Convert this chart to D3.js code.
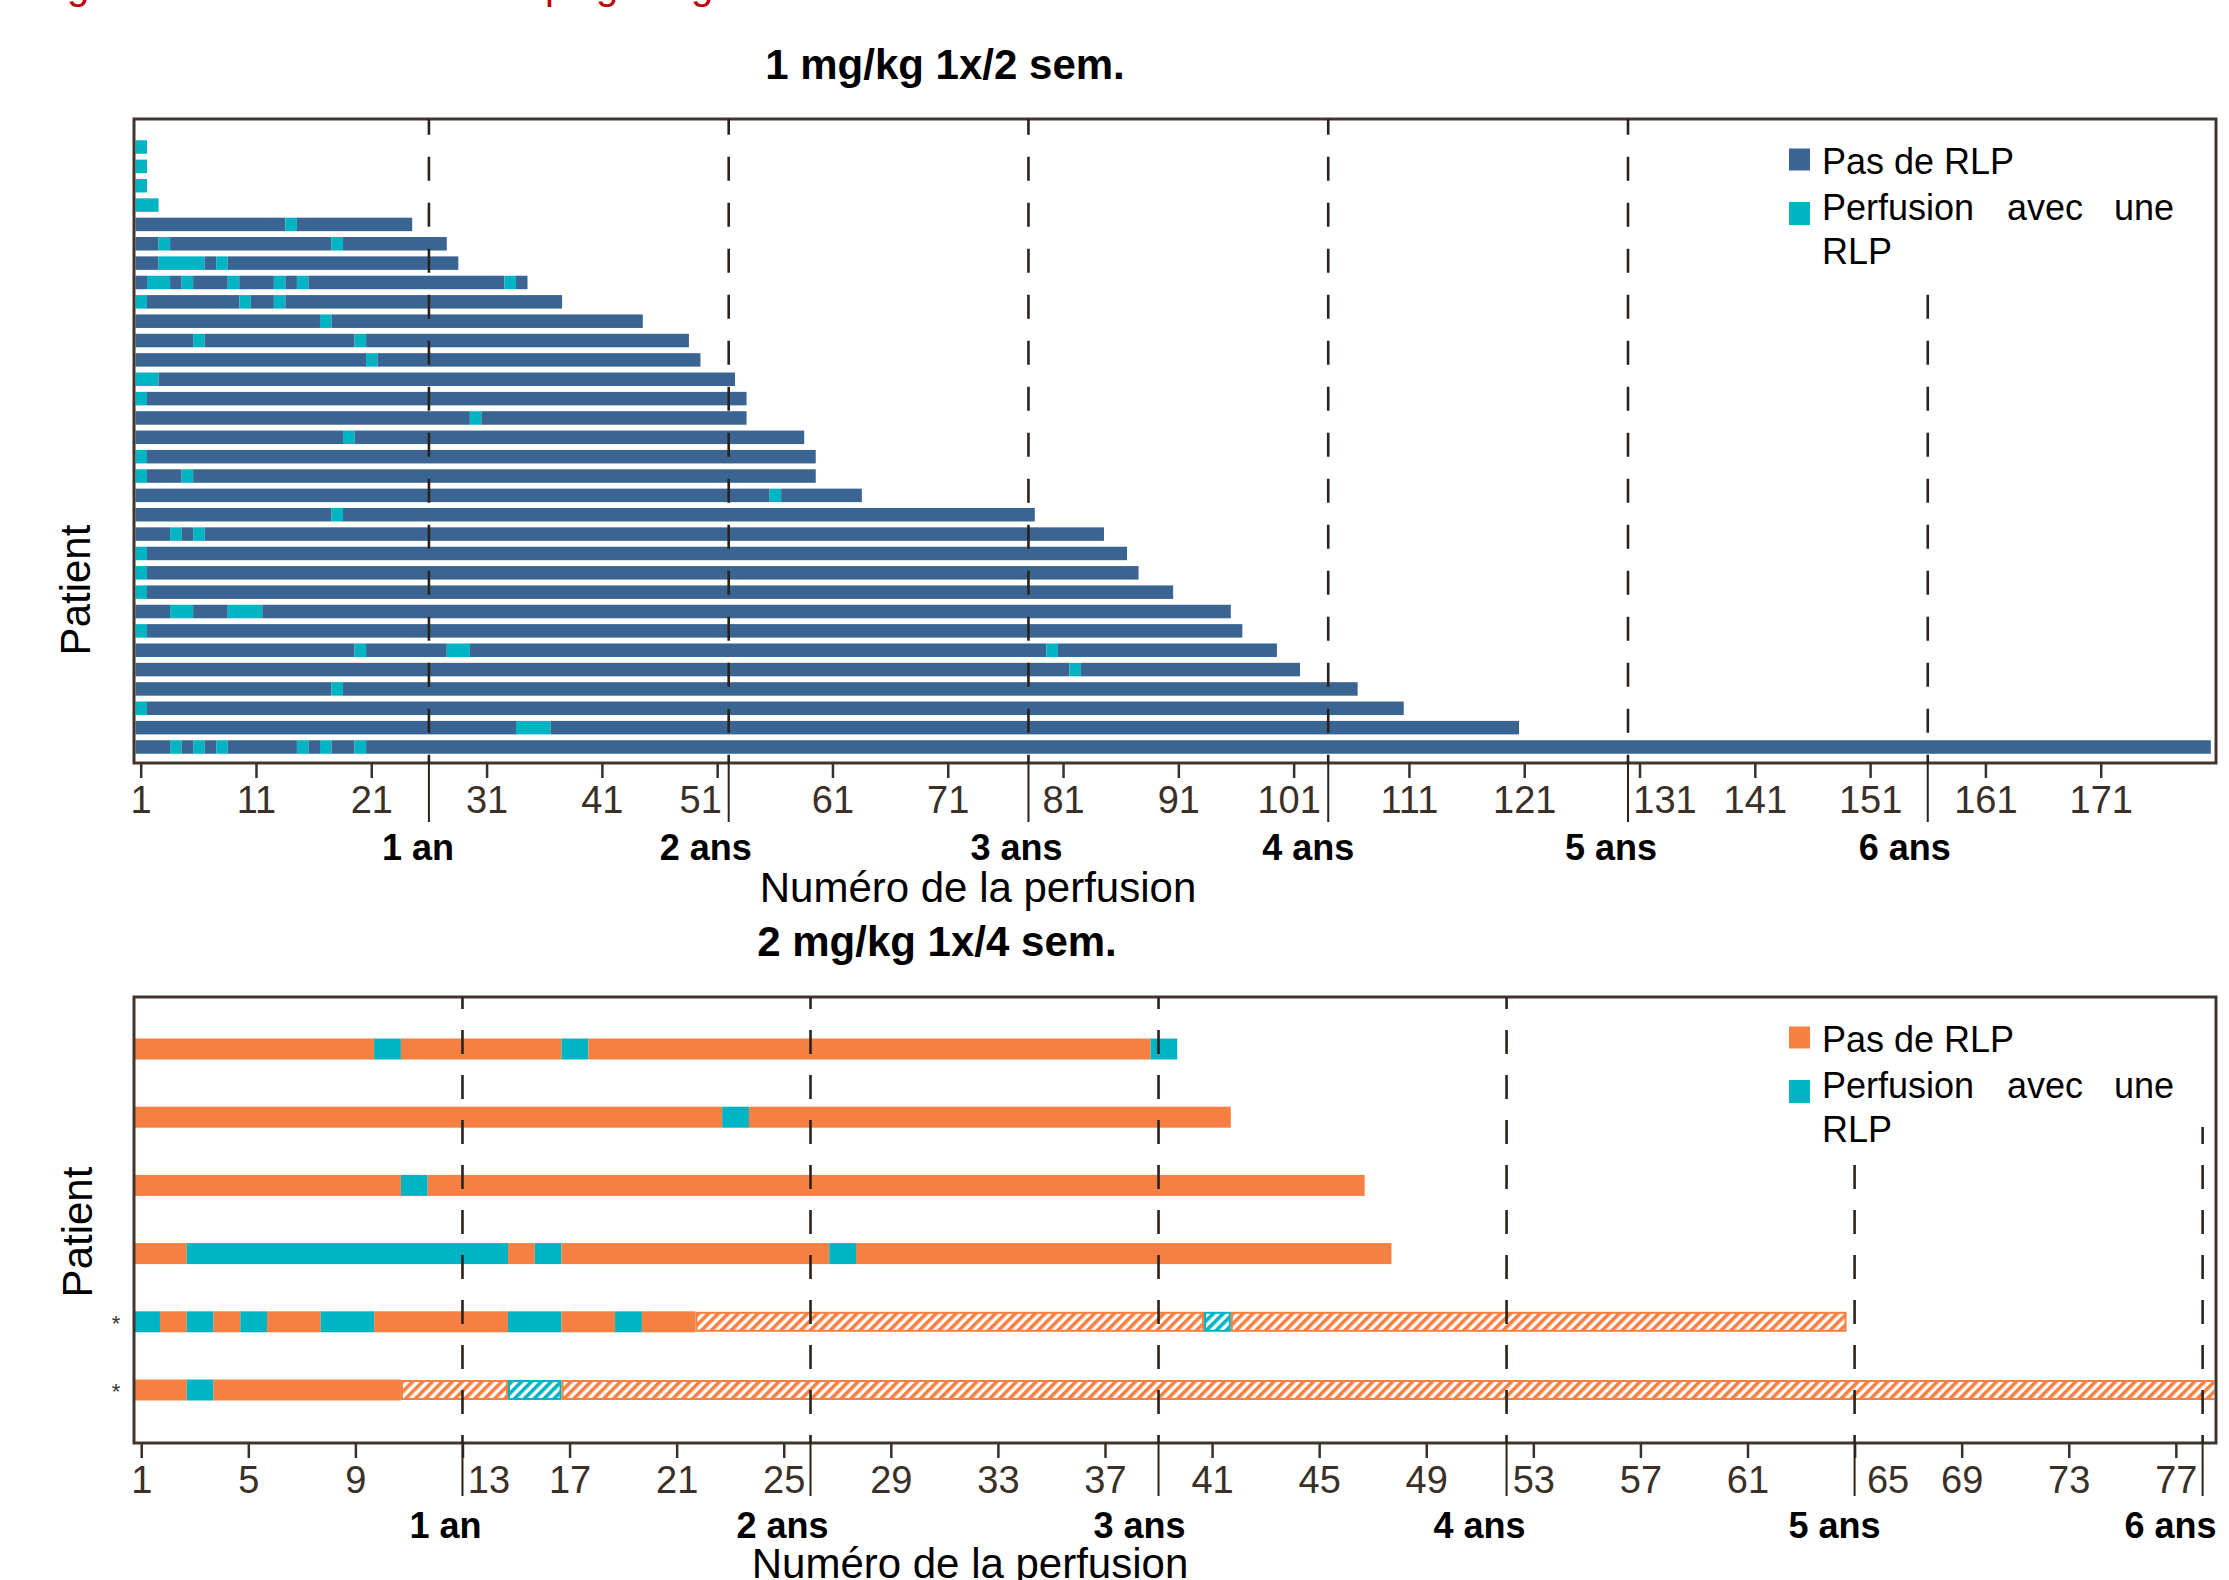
<!DOCTYPE html>
<html><head><meta charset="utf-8">
<script src="https://cdn.jsdelivr.net/npm/d3@7"></script>
<style>
body{margin:0;background:#fff;}
svg{display:block;font-family:"Liberation Sans", Arial, sans-serif;}
</style></head><body>
<svg id="chart" width="2229" height="1580"></svg>
<script>
// ---------------- DATA ----------------
const titles = ["1 mg/kg 1x/2 sem.", "2 mg/kg 1x/4 sem."];
const xTitle = "Numéro de la perfusion";
const yTitle = "Patient";
const legendNo = "Pas de RLP";
const legendYesWords = ["Perfusion", "avec", "une"];
const legendYesLine2 = "RLP";
const yearLabels = ["1 an", "2 ans", "3 ans", "4 ans", "5 ans", "6 ans"];

// panel 1 : 1 mg/kg every 2 weeks (top to bottom)
const topInfusions = [1,1,1,2,24,27,28,34,37,44,48,49,52,53,53,58,59,59,63,78,84,86,87,90,95,96,99,101,106,110,120,180];
const topRLP = [[1],[1],[1],[1,2],[14],[3,18],[3,4,5,6,8],[2,3,5,9,13,15,33],[1,10,13],[17],[6,20],[21],[1,2],[1],[30],[19],[1],[1,5],[56],[18],[4,6],[1],[1],[1],[4,5,9,10,11],[1],[20,28,29,80],[82],[18],[1],[34,35,36],[4,6,8,15,17,20]];
const topTicks = d3.range(1, 172, 10);
const topYearInfusion = [26, 52, 78, 104, 130, 156];

// panel 2 : 2 mg/kg every 4 weeks (top to bottom)
const botInfusions = [39, 41, 46, 47, 64, 78];
const botRLP = [[10,17,39],[23],[11],[3,4,5,6,7,8,9,10,11,12,13,14,16,27],[1,3,5,8,9,15,16,19,41],[3,15,16]];
const botHatchFrom = [null, null, null, null, 22, 11];
const botStar = [false, false, false, false, true, true];
const botTicks = d3.range(1, 78, 4);
const botYearInfusion = [13, 26, 39, 52, 65, 78];

// ---------------- LAYOUT / STYLE ----------------
const C = {
  blue: "#3a6491", cyan: "#00b4c4", orange: "#f68042",
  frame: "#40362c", dash: "#2a231d", text: "#000", tick: "#3a3027"
};
const L = {
  left: 134, right: 2216,
  legendX: 1822, legendWordX: [1822, 2007, 2114],
  top: { y0: 119, y1: 763, rowFirst: 147, rowLast: 747, barH: 13.5, dom: [0.42, 181], a: 0.45, b: 0.55,
         dashStart: [119,119,119,119,119,291], phase: 110.7, dash: "24 22", period: 46,
         yearDx: [-11,-23,-12,-20,-17,-23], labelShift: {51:-17, 101:-5, 131:25}, yearY: 97,
         title: {x: 945, y: 79}, xTitle: {x: 978, y: 902}, yTitle: {x: 90, y: 590}, ext: 59 },
  bot: { y0: 997, y1: 1443, rowFirst: 1049, rowLast: 1390, barH: 21, dom: [0.73, 78.5], a: 0.3, b: 0.7,
         dashStart: [997,997,997,997,1161,1127], phase: 1075, dash: "24 21", period: 45,
         yearDx: [-17,-28,-19,-27,-20,-32], labelShift: {13:26, 65:33}, yearY: 95,
         title: {x: 937, y: 956}, xTitle: {x: 970, y: 1578}, yTitle: {x: 92, y: 1232}, ext: 53 }
};

const svg = d3.select("#chart");
const defs = svg.append("defs");
function hatch(id, color) {
  const p = defs.append("pattern").attr("id", id).attr("patternUnits", "userSpaceOnUse")
    .attr("width", 7).attr("height", 7).attr("patternTransform", "rotate(45)");
  p.append("rect").attr("width", 7).attr("height", 7).attr("fill", "#fff");
  p.append("rect").attr("x", 0).attr("y", 0).attr("width", 3.6).attr("height", 7).attr("fill", color);
}
hatch("hatchO", C.orange);
hatch("hatchC", C.cyan);

// red cropped caption above the chart (only descenders visible)
svg.append("text").attr("y", -1).attr("fill", "#c00000").style("font-size", "40px")
  .selectAll("tspan").data([["g",67],["p",545],["g",596],["g",691]]).join("tspan")
  .attr("x", d => d[1]).text(d => d[0]);

function runs(n, rlp, hatchFrom) {
  const s = new Set(rlp), out = [];
  for (let k = 1; k <= n; k++) {
    const h = hatchFrom != null && k >= hatchFrom;
    const t = (s.has(k) ? "r" : "n") + (h ? "h" : "");
    const last = out[out.length - 1];
    if (last && last.t === t) last.end = k; else out.push({start: k, end: k, t});
  }
  return out;
}

let clipN = 0;
function panel(cfg, infusions, rlp, hatchFrom, stars, ticks, yearInf, baseColor, title, legendColor) {
  const x = d3.scaleLinear().domain(cfg.dom).range([L.left, L.right]);
  const ids = d3.range(infusions.length);
  const y = d3.scalePoint().domain(ids).range([cfg.rowFirst, cfg.rowLast]);
  const g = svg.append("g");
  const cid = "clip" + (clipN++);
  defs.append("clipPath").attr("id", cid).append("rect")
    .attr("x", L.left).attr("y", cfg.y0).attr("width", L.right - L.left - 1.5).attr("height", cfg.y1 - cfg.y0);
  const bars = g.append("g").attr("clip-path", `url(#${cid})`);

  // bars
  ids.forEach(i => {
    const segs = runs(infusions[i], rlp[i], hatchFrom ? hatchFrom[i] : null);
    segs.forEach(s => {
      const x0 = x(s.start - cfg.a), x1 = x(s.end + cfg.b);
      const isR = s.t[0] === "r", isH = s.t.length > 1;
      const col = isR ? C.cyan : baseColor;
      if (isH) {
        const h = cfg.barH - 3;
        bars.append("rect").attr("x", x0 + 1).attr("y", y(i) - h / 2).attr("width", x1 - x0 - 2).attr("height", h)
          .attr("fill", isR ? "url(#hatchC)" : "url(#hatchO)").attr("stroke", col).attr("stroke-width", 2);
      } else {
        bars.append("rect").attr("x", x0).attr("y", y(i) - cfg.barH / 2).attr("width", x1 - x0).attr("height", cfg.barH)
          .attr("fill", col);
      }
    });
  });

  // stars
  if (stars) {
    g.selectAll("text.star").data(ids.filter(i => stars[i])).join("text").attr("class", "star")
      .attr("x", 116).attr("y", i => y(i) + 9).attr("text-anchor", "middle")
      .style("font-size", "22px").attr("fill", "#333").text("*");
  }

  // frame
  g.append("rect").attr("x", L.left).attr("y", cfg.y0).attr("width", L.right - L.left).attr("height", cfg.y1 - cfg.y0)
    .attr("fill", "none").attr("stroke", C.frame).attr("stroke-width", 3);

  // axis
  const ax = g.append("g").attr("transform", `translate(0,${cfg.y1})`)
    .call(d3.axisBottom(x).tickValues(ticks).tickFormat(d3.format("d")).tickSize(15).tickSizeOuter(0).tickPadding(8));
  ax.select(".domain").remove();
  ax.selectAll(".tick line").attr("stroke", C.tick).attr("stroke-width", 2.5);
  ax.selectAll(".tick text").attr("fill", C.tick).style("font-size", "38px")
    .attr("dx", d => cfg.labelShift[d] || 0);

  // year lines (dashed inside, solid below)
  yearInf.forEach((v, j) => {
    const xv = x(v), ys = cfg.dashStart[j];
    const off = ((ys - cfg.phase) % cfg.period + cfg.period) % cfg.period;
    g.append("line").attr("x1", xv).attr("x2", xv).attr("y1", ys).attr("y2", cfg.y1)
      .attr("stroke", C.dash).attr("stroke-width", 2.6).attr("stroke-dasharray", cfg.dash).attr("stroke-dashoffset", off);
    g.append("line").attr("x1", xv).attr("x2", xv).attr("y1", cfg.y1).attr("y2", cfg.y1 + cfg.ext)
      .attr("stroke", C.dash).attr("stroke-width", 2);
    g.append("text").attr("x", xv + cfg.yearDx[j]).attr("y", cfg.y1 + cfg.yearY).attr("text-anchor", "middle")
      .style("font-size", "36px").style("font-weight", "bold").attr("fill", C.text).text(yearLabels[j]);
  });

  // titles
  g.append("text").attr("x", cfg.title.x).attr("y", cfg.title.y).attr("text-anchor", "middle")
    .style("font-size", "42px").style("font-weight", "bold").text(title);
  g.append("text").attr("x", cfg.xTitle.x).attr("y", cfg.xTitle.y).attr("text-anchor", "middle")
    .style("font-size", "42px").text(xTitle);
  g.append("text").attr("transform", `translate(${cfg.yTitle.x},${cfg.yTitle.y}) rotate(-90)`).attr("text-anchor", "middle")
    .style("font-size", "42px").text(yTitle);

  // legend
  const lg = g.append("g").attr("transform", `translate(0,${cfg.y0})`);
  lg.append("rect").attr("x", 1789).attr("y", 40.5 - 11).attr("width", 21).attr("height", 22).attr("fill", legendColor);
  lg.append("rect").attr("x", 1789).attr("y", 94.5 - 11.5).attr("width", 21).attr("height", 23).attr("fill", C.cyan);
  lg.append("text").attr("x", L.legendX).attr("y", 55).style("font-size", "36px").text(legendNo);
  lg.append("text").attr("y", 100.5).style("font-size", "36px")
    .selectAll("tspan").data(legendYesWords).join("tspan")
    .attr("x", (d, i) => L.legendWordX[i]).text(d => d);
  lg.append("text").attr("x", L.legendX).attr("y", 144.5).style("font-size", "36px").text(legendYesLine2);
}

panel(L.top, topInfusions, topRLP, null, null, topTicks, topYearInfusion, C.blue, titles[0], C.blue);
panel(L.bot, botInfusions, botRLP, botHatchFrom, botStar, botTicks, botYearInfusion, C.orange, titles[1], C.orange);
</script>
</body></html>
